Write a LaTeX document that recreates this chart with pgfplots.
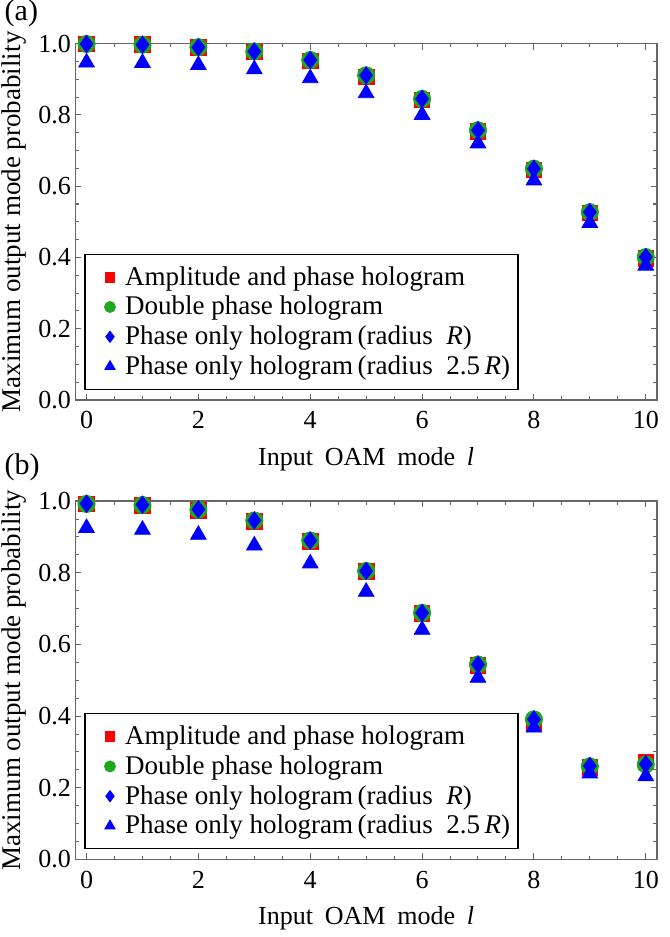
\documentclass[border=0pt]{standalone}
\usepackage{fontspec}
\setmainfont{Liberation Serif}
\usepackage{pgfplots}
\usepackage{pgfplotstable}
\pgfplotsset{compat=1.18}

\definecolor{framegray}{gray}{0.4}
\definecolor{mred}{rgb}{1,0,0}
\definecolor{mgreen}{rgb}{0.12,0.66,0.12}
\definecolor{mblue}{rgb}{0,0,1}

% columns: l, amplitude+phase, double phase, phase only (R), phase only (2.5R)
\pgfplotstableread{
l  amp    dbl    por    pot
0  0.999  0.999  0.999  0.947
1  0.997  0.997  0.997  0.946
2  0.990  0.990  0.990  0.940
3  0.977  0.978  0.978  0.928
4  0.952  0.954  0.954  0.903
5  0.907  0.911  0.911  0.861
6  0.842  0.845  0.845  0.800
7  0.754  0.757  0.757  0.720
8  0.646  0.649  0.649  0.616
9  0.525  0.527  0.527  0.497
10 0.398  0.401  0.401  0.377
}\dataA

\pgfplotstableread{
l  amp    dbl    por    pot
0  0.992  0.992  0.993  0.925
1  0.988  0.989  0.990  0.920
2  0.974  0.976  0.977  0.906
3  0.944  0.946  0.946  0.876
4  0.888  0.890  0.890  0.826
5  0.803  0.805  0.805  0.747
6  0.687  0.688  0.688  0.641
7  0.542  0.544  0.544  0.507
8  0.381  0.391  0.391  0.368
9  0.257  0.260  0.261  0.240
10 0.272  0.265  0.266  0.232
}\dataB

\pgfplotsset{
  oam/.style={
    scale only axis, width=290.5pt,
    xmin=-0.2, xmax=10.2, ymin=0, ymax=1,
    xtick={0,2,4,6,8,10}, minor x tick num=3,
    ytick={0,0.2,0.4,0.6,0.8,1}, minor y tick num=3,
    tick align=inside, major tick length=3pt, minor tick length=1.8pt,
    axis line style={framegray, line width=0.65pt},
    every tick/.style={framegray, line width=0.5pt},
    ticklabel style={font=\fontsize{13}{15}\selectfont, text=black},
    xticklabel style={inner sep=5.5pt},
    yticklabel style={inner sep=2pt, /pgf/number format/fixed,
      /pgf/number format/fixed zerofill, /pgf/number format/precision=1},
    /pgf/number format/assume math mode=true,
    xlabel={Input\hspace{0.45em}OAM\hspace{0.45em}mode\hspace{0.45em}\textit{l}},
    ylabel={Maximum output mode probability},
    xlabel style={font=\fontsize{13}{15}\selectfont,
      at={(axis description cs:0.5,0)}, anchor=center, yshift=-29.5pt},
    ylabel style={font=\fontsize{13.5}{15}\selectfont,
      at={(axis description cs:-0.105,0.5)}, anchor=center, inner sep=1pt},
    legend style={at={(rel axis cs:0.0155,0.028)}, anchor=south west, draw=black,
      line width=0.6pt, fill=white, font=\fontsize{13.5}{15}\selectfont,
      inner xsep=2pt, inner ysep=4pt},
    legend cell align=left,
    % one small marker per entry, with room before and after it
    legend image code/.code={%
      \path[draw=none, fill=none] (0pt,-2pt) rectangle (16pt,2pt);
      \draw[#1, draw=none] plot coordinates {(10.5pt,0pt)};},
    legend image post style={mark options={scale=0.62}},
  },
  sq/.style={only marks, color=mred,   mark=square*,   mark size=3.9pt},
  ci/.style={only marks, color=mgreen, mark=*,         mark size=4.3pt},
  di/.style={only marks, color=mblue,  mark=diamond*,  mark size=4.3pt},
  tr/.style={only marks, color=mblue,  mark=triangle*, mark size=4.5pt},
}

\begin{document}
\begin{tikzpicture}
\begin{axis}[oam, name=a, at={(0,229.5pt)}, height=178pt]
  \addplot[sq] table[x=l, y=amp] {\dataA};
  \addplot[ci] table[x=l, y=dbl] {\dataA};
  \addplot[di] table[x=l, y=por] {\dataA};
  \addplot[tr] table[x=l, y=pot] {\dataA};
  \legend{Amplitude and phase hologram, Double phase hologram,
    Phase only hologram\,(radius\ \ \textit{R}),
    Phase only hologram\,(radius\ \ 2.5\,\textit{R})}
\end{axis}
\node[anchor=west, inner sep=0pt, font=\fontsize{15}{17}\selectfont, xshift=-35.5pt, yshift=15pt] at (a.north west) {(a)};

\begin{axis}[oam, name=b, at={(0,0)}, height=179pt]
  \addplot[sq] table[x=l, y=amp] {\dataB};
  \addplot[ci] table[x=l, y=dbl] {\dataB};
  \addplot[di] table[x=l, y=por] {\dataB};
  \addplot[tr] table[x=l, y=pot] {\dataB};
  \legend{Amplitude and phase hologram, Double phase hologram,
    Phase only hologram\,(radius\ \ \textit{R}),
    Phase only hologram\,(radius\ \ 2.5\,\textit{R})}
\end{axis}
\node[anchor=west, inner sep=0pt, font=\fontsize{15}{17}\selectfont, xshift=-35.5pt, yshift=17pt] at (b.north west) {(b)};
\end{tikzpicture}
\end{document}
